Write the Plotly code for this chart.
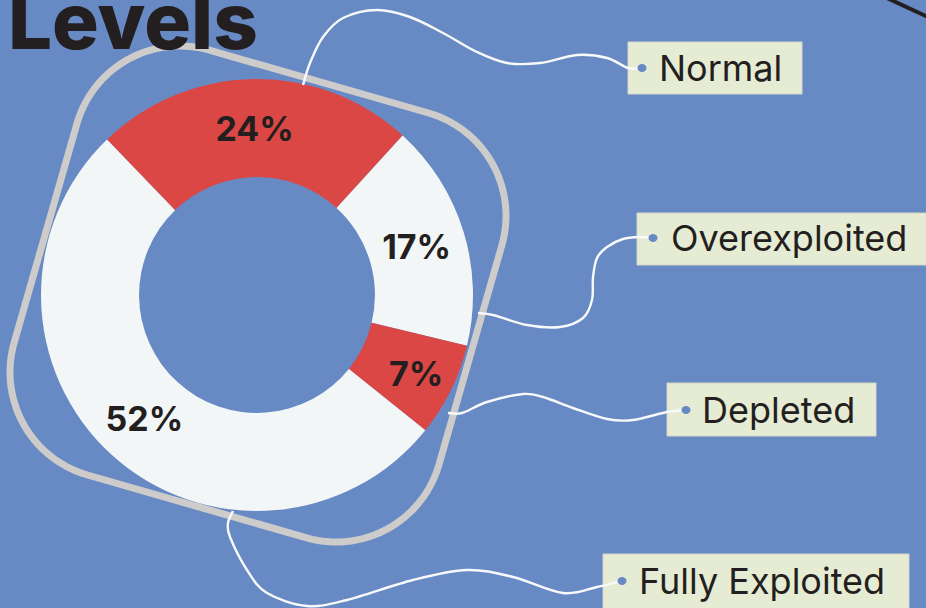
import numpy as np
import plotly.graph_objects as go

# ---------------- data ----------------
categories = ["Normal", "Overexploited", "Depleted", "Fully Exploited"]
shares = [24, 17, 7, 52]
slice_colors = ["#DB4744", "#F3F6F7", "#DB4744", "#F3F6F7"]
title_text = "Levels"

# ---------------- layout / styling ----------------
W, H = 926, 608
BG = "#6789C4"
INK = "#231F20"
BOX = "#E6EBD3"
ROPE = "#F7F9FA"
RING = "#CECCCB"
FONT = "Inter"

cx, cy, R = 257, 295, 216          # donut centre / outer radius (px)
HOLE = 0.546

# callout geometry (pixels), keyed by category
callouts = {
    "Normal": dict(box=(628, 42, 802, 94), dot=(642, 68), tx=657,
                   path=[(303, 85), (310, 63), (323, 37), (343, 18), (377, 10), (410, 17),
                         (443, 33), (477, 52), (507, 63), (540, 63), (577, 55), (607, 58),
                         (628, 68), (642, 68)]),
    "Overexploited": dict(box=(637, 213, 932, 265), dot=(653, 238), tx=669,
                          path=[(478, 313), (493, 315), (527, 325), (560, 327), (583, 318),
                                (592, 300), (593, 277), (597, 258), (607, 247), (623, 239),
                                (640, 237), (653, 238)]),
    "Depleted": dict(box=(667, 383, 876, 436), dot=(686, 410), tx=700,
                     path=[(448, 413), (462, 413), (487, 402), (523, 394), (543, 397),
                           (573, 408), (607, 419), (633, 420), (667, 412), (686, 410)]),
    "Fully Exploited": dict(box=(603, 554, 909, 614), dot=(622, 581), tx=637,
                            path=[(233, 511), (228, 523), (230, 537), (247, 570), (267, 593),
                                  (307, 606), (347, 600), (413, 580), (467, 570), (513, 577),
                                  (563, 593), (597, 587), (622, 581)]),
}


def smooth_path(pts):
    p = [pts[0]] + list(pts) + [pts[-1]]
    d = f"M {p[1][0]},{p[1][1]}"
    for i in range(1, len(p) - 2):
        p0, p1, p2, p3 = p[i - 1], p[i], p[i + 1], p[i + 2]
        c1 = (p1[0] + (p2[0] - p0[0]) / 6, p1[1] + (p2[1] - p0[1]) / 6)
        c2 = (p2[0] - (p3[0] - p1[0]) / 6, p2[1] - (p3[1] - p1[1]) / 6)
        d += f" C {c1[0]:.2f},{c1[1]:.2f} {c2[0]:.2f},{c2[1]:.2f} {p2[0]},{p2[1]}"
    return d


def rounded_square(xc, yc, a, rc, theta_deg, n=30):
    c = a - rc
    th = np.radians(theta_deg)
    pts = []
    for ux, uy, a0, a1 in [(c, -c, -90, 0), (c, c, 0, 90), (-c, c, 90, 180), (-c, -c, 180, 270)]:
        for t in np.linspace(np.radians(a0), np.radians(a1), n):
            x, y = ux + rc * np.cos(t), uy + rc * np.sin(t)
            pts.append((xc + x * np.cos(th) - y * np.sin(th), yc + x * np.sin(th) + y * np.cos(th)))
    return "M " + " L ".join(f"{x:.2f},{y:.2f}" for x, y in pts) + " Z"


fig = go.Figure()
fig.add_trace(go.Scatter(x=[], y=[], showlegend=False, hoverinfo="skip"))
fig.add_trace(go.Pie(
    labels=categories, values=shares, sort=False, direction="clockwise", rotation=-44,
    hole=HOLE, marker=dict(colors=slice_colors, line=dict(width=0)),
    texttemplate="%{value}%", textposition="inside", insidetextorientation="horizontal",
    textfont=dict(family=FONT, size=34, color=INK, weight=700),
    domain=dict(x=[(cx - R) / W, (cx + R) / W], y=[(H - cy - R) / H, (H - cy + R) / H]),
    showlegend=False, hoverinfo="label+percent",
))

shapes = []
# life-ring outline
shapes.append(dict(type="path", xref="x", yref="y", layer="above",
                   path=rounded_square(258, 294, 221, 107, 16),
                   line=dict(color=RING, width=7), fillcolor="rgba(0,0,0,0)"))
# top-right rope fragment
shapes.append(dict(type="line", xref="x", yref="y", layer="above",
                   x0=887, y0=-2, x1=930, y1=18, line=dict(color=INK, width=4)))

annotations = []
for name in categories:
    x0, y0, x1, y1 = callouts[name]["box"]
    shapes.append(dict(type="rect", xref="x", yref="y", layer="above",
                       x0=x0, y0=y0, x1=x1, y1=y1, fillcolor=BOX,
                       line=dict(color="#D3D8C4", width=1)))
for name in categories:
    co = callouts[name]
    shapes.append(dict(type="path", xref="x", yref="y", layer="above",
                       path=smooth_path(co["path"]), line=dict(color=ROPE, width=2.4)))
    dx, dy = co["dot"]
    shapes.append(dict(type="circle", xref="x", yref="y", layer="above",
                       x0=dx - 4.5, y0=dy - 4, x1=dx + 4.5, y1=dy + 4,
                       fillcolor=BG, line=dict(width=0)))
    annotations.append(dict(x=co["tx"], y=co["dot"][1], xref="x", yref="y", text=name,
                            showarrow=False, xanchor="left", yanchor="middle",
                            font=dict(family=FONT, size=36, color=INK)))

annotations.append(dict(x=6, y=70, xref="x", yref="y", text=title_text, showarrow=False,
                        xanchor="left", yanchor="bottom",
                        font=dict(family=FONT, size=78, color=INK, weight=800)))

fig.update_layout(
    width=W, height=H, margin=dict(l=0, r=0, t=0, b=0),
    paper_bgcolor=BG, plot_bgcolor=BG,
    xaxis=dict(range=[0, W], visible=False, fixedrange=True),
    yaxis=dict(range=[H, 0], visible=False, fixedrange=True),
    uniformtext=dict(minsize=34, mode="show"),
    shapes=shapes, annotations=annotations, showlegend=False,
)

fig.write_html("out.html", config={"displayModeBar": False},
               post_script="document.body.style.margin='0';document.body.style.overflow='hidden';")
